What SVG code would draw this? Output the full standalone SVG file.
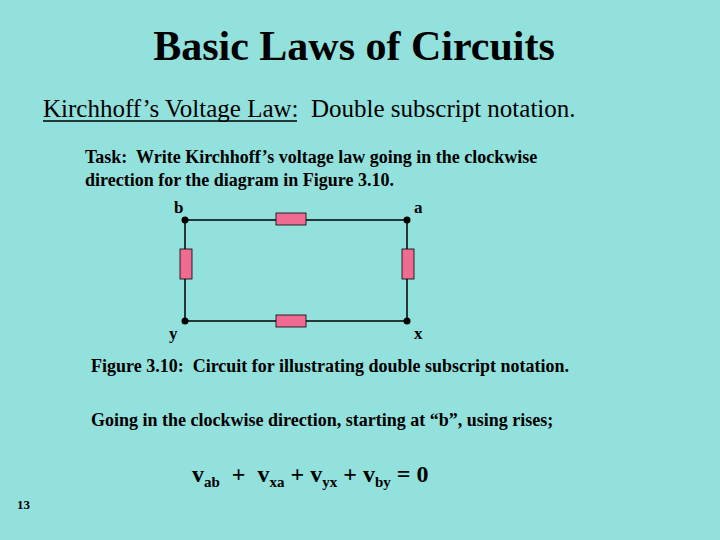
<svg xmlns="http://www.w3.org/2000/svg" width="720" height="540" viewBox="0 0 720 540">
<style>
text{font-family:"Liberation Serif","Times New Roman","DejaVu Serif",serif;fill:#000}
.b{font-weight:700}
.r{fill:#f06b91;stroke:#000;stroke-width:0.8}
.w{stroke:#000;stroke-width:1.5;fill:none}
</style>
<rect width="720" height="540" fill="#92e1dd"/>
<text x="354" y="60" text-anchor="middle" font-size="42" class="b">Basic Laws of Circuits</text>
<text x="43" y="117" font-size="25">Kirchhoff’s Voltage Law:&#160; Double subscript notation.</text>
<line x1="43" y1="121" x2="297" y2="121" stroke="#000" stroke-width="1.5"/>
<text x="85" y="163" font-size="18" class="b">Task:&#160; Write Kirchhoff’s voltage law going in the clockwise</text>
<text x="85" y="186" font-size="18" class="b">direction for the diagram in Figure 3.10.</text>
<g id="connectors">
<rect class="w" x="185" y="220" width="222" height="101"/>
</g>
<g id="r_top"><rect class="r" x="276" y="213" width="30" height="12"/></g>
<g id="r_bottom"><rect class="r" x="276" y="315" width="30" height="12"/></g>
<g id="r_left"><rect class="r" x="180" y="249" width="12" height="30"/></g>
<g id="r_right"><rect class="r" x="402" y="249" width="12" height="30"/></g>
<g id="node_b"><circle cx="185" cy="220" r="3.5"/><text x="174" y="213" font-size="17" class="b">b</text></g>
<g id="node_a"><circle cx="407" cy="220" r="3.5"/><text x="414" y="213" font-size="17" class="b">a</text></g>
<g id="node_y"><circle cx="185" cy="321" r="3.5"/><text x="169" y="339" font-size="17" class="b">y</text></g>
<g id="node_x"><circle cx="407" cy="321" r="3.5"/><text x="414" y="339" font-size="17" class="b">x</text></g>
<text x="91" y="372" font-size="18" class="b">Figure 3.10:&#160; Circuit for illustrating double subscript notation.</text>
<text x="91" y="426" font-size="18" class="b">Going in the clockwise direction, starting at “b”, using rises;</text>
<text x="192" y="482" font-size="24" class="b">v<tspan font-size="15" dy="5">ab</tspan><tspan dy="-5">&#160; +&#160; v</tspan><tspan font-size="15" dy="5">xa</tspan><tspan dy="-5"> + v</tspan><tspan font-size="15" dy="5">yx</tspan><tspan dy="-5"> + v</tspan><tspan font-size="15" dy="5">by</tspan><tspan dy="-5"> = 0</tspan></text>
<text x="17" y="509" font-size="13" class="b">13</text>
</svg>
